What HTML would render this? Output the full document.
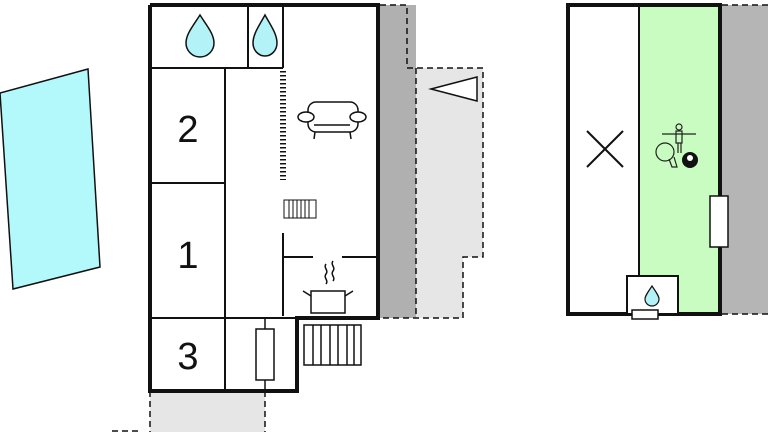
<!DOCTYPE html>
<html><head><style>body{margin:0;background:#fff}svg{display:block}</style></head><body>
<svg width="768" height="432" viewBox="0 0 768 432" xmlns="http://www.w3.org/2000/svg" font-family="Liberation Sans, sans-serif">
<polygon points="0,93 88,69 100,267 13,289" fill="#b3f9fc" stroke="#111" stroke-width="1.5"/>
<polygon points="416,68 483,68 483,257 463,257 463,318 416,318" fill="#e6e6e6"/>
<rect x="380" y="5" width="36" height="313" fill="#b0b0b0"/>
<rect x="150" y="391" width="115" height="41" fill="#e6e6e6"/>
<g fill="none" stroke="#111" stroke-width="1.5" stroke-dasharray="6,4">
<polyline points="380,5 407,5 407,68 416,68 483,68 483,257 463,257 463,318 380,318"/>
<line x1="416" y1="68" x2="416" y2="318"/>
<polyline points="150,391 150,432"/>
<polyline points="265,391 265,432"/>
<line x1="112" y1="431" x2="140" y2="431"/>
</g>
<polygon points="431,89 477,77 477,101" fill="#fff" stroke="#111" stroke-width="1.5"/>
<g stroke="#111" fill="none">
<polyline points="150,5 378,5 378,318 297,318 297,391 150,391 150,5" stroke-width="4" fill="#fff"/>
<g stroke-width="2">
<line x1="150" y1="68" x2="283" y2="68"/>
<line x1="248" y1="5" x2="248" y2="68"/>
<line x1="283" y1="5" x2="283" y2="68"/>
<line x1="225" y1="68" x2="225" y2="391"/>
<line x1="150" y1="183" x2="225" y2="183"/>
<line x1="150" y1="318" x2="297" y2="318"/>
<line x1="283" y1="233" x2="283" y2="316"/>
<line x1="283" y1="257" x2="313" y2="257"/>
<line x1="342" y1="257" x2="378" y2="257"/>
</g>
</g>
<line x1="283" y1="71" x2="283" y2="180" stroke="#111" stroke-width="6" stroke-dasharray="1.5,2.5"/>
<path d="M200,15 C193,26 186,34 186,43 A14,14 0 0 0 214,43 C214,34 207,26 200,15Z" fill="#b3f3f7" stroke="#111" stroke-width="1.5"/>
<path d="M265,15 C259,26 253,34 253,43 A12,13 0 0 0 277,43 C277,34 271,26 265,15Z" fill="#b3f3f7" stroke="#111" stroke-width="1.5"/>
<g font-size="38" fill="#111" text-anchor="middle">
<text x="188" y="142">2</text><text x="188" y="268">1</text><text x="188" y="369">3</text></g>
<g fill="#fff" stroke="#111" stroke-width="1.5">
<rect x="308" y="102" width="50" height="30" rx="8"/>
<ellipse cx="306" cy="117" rx="8" ry="5"/><ellipse cx="358" cy="117" rx="8" ry="5"/>
<line x1="314" y1="125" x2="350" y2="125"/>
<line x1="315" y1="132" x2="314" y2="139"/><line x1="350" y1="132" x2="351" y2="139"/>
</g>
<g stroke="#111" stroke-width="1" fill="#fff">
<rect x="284" y="200" width="32" height="18"/>
<path d="M289,200v18M293,200v18M297,200v18M301,200v18M305,200v18M309,200v18"/>
</g>
<g stroke="#111" stroke-width="1.5" fill="#fff">
<rect x="311" y="291" width="34" height="22"/>
<path d="M311,296l-8,-5M345,296l8,-5M326,264c-3,4 3,6 0,10c-3,4 3,6 0,10M333,261c-3,4 3,6 0,10c-3,4 3,6 0,10" fill="none"/>
</g>
<g stroke="#111" stroke-width="1.5" fill="#fff">
<rect x="304" y="325" width="57" height="40"/>
<path d="M313,325v40M321,325v40M330,325v40M338,325v40M347,325v40M354,325v40"/>
</g>
<line x1="265" y1="318" x2="265" y2="391" stroke="#111" stroke-width="1.5"/>
<rect x="256" y="329" width="18" height="51" fill="#fff" stroke="#111" stroke-width="1.5"/>
<rect x="722" y="5" width="46" height="309" fill="#b5b5b5"/>
<polyline points="722,5 768,5" stroke="#111" stroke-width="1.5" stroke-dasharray="6,4"/>
<polyline points="722,314 768,314" stroke="#111" stroke-width="1.5" stroke-dasharray="6,4"/>
<rect x="639" y="5" width="81" height="309" fill="#c8fcc0"/>
<rect x="568" y="5" width="152" height="309" fill="none" stroke="#111" stroke-width="4"/>
<line x1="639" y1="5" x2="639" y2="276" stroke="#111" stroke-width="2"/>
<path d="M587,131L623,167M623,131L587,167" stroke="#111" stroke-width="2"/>
<rect x="627" y="276" width="51" height="38" fill="#fff" stroke="#111" stroke-width="2"/>
<rect x="632" y="310" width="26" height="9" fill="#fff" stroke="#111" stroke-width="1.5"/>
<path d="M652,286 C648,292 645,296 645,299 A7,7 0 0 0 659,299 C659,296 656,292 652,286Z" fill="#b3f3f7" stroke="#111" stroke-width="1.2"/>
<rect x="710" y="196" width="18" height="51" fill="#fff" stroke="#111" stroke-width="1.5"/>
<g stroke="#222" stroke-width="1.2" fill="none">
<line x1="662" y1="134" x2="696" y2="134"/>
<circle cx="679" cy="127" r="3"/>
<path d="M676,131v12h6v-12z"/>
<path d="M678,143v10M681,143v10"/>
<circle cx="665" cy="152" r="9"/>
<path d="M669,159l3,8h5l-3,-10"/>
</g>
<circle cx="690" cy="160" r="8" fill="#111"/>
<circle cx="690" cy="158" r="3" fill="#fff"/>
</svg>
</body></html>
